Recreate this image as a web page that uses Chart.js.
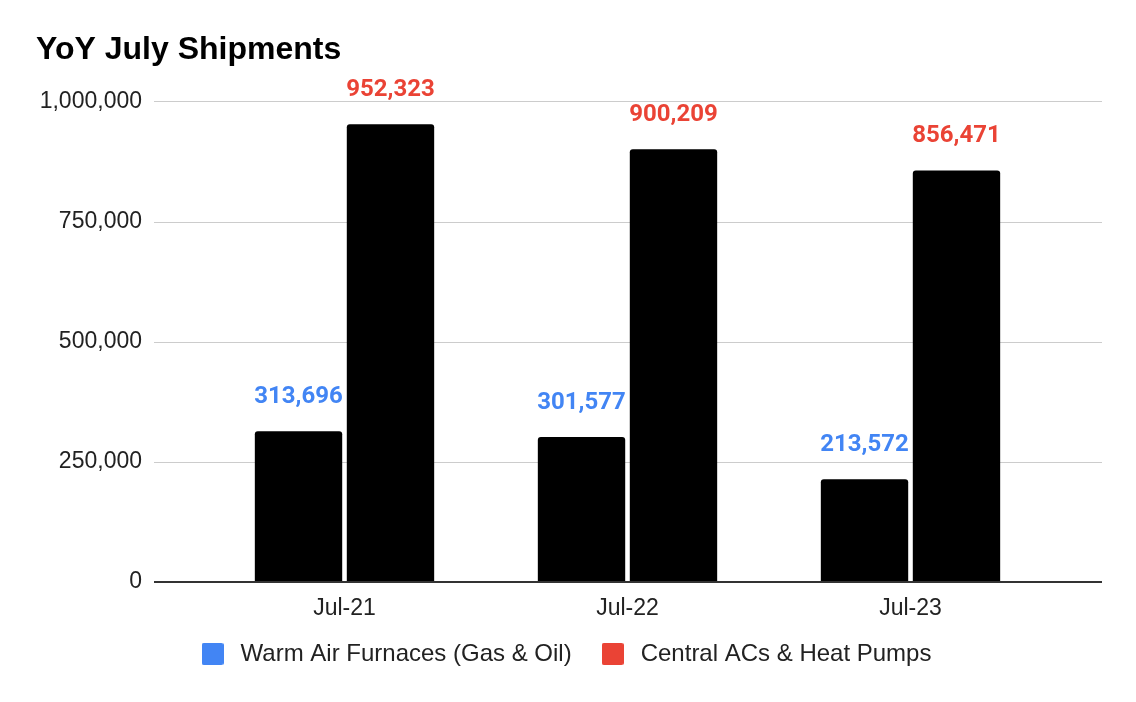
<!DOCTYPE html>
<html>
<head>
<meta charset="utf-8">
<script src="https://cdn.jsdelivr.net/npm/chart.js@4"></script>
<style>
  html, body { margin: 0; padding: 0; background: #fff; }
  #wrap { width: 1136px; height: 702px; }
</style>
</head>
<body>
<div id="wrap"><canvas id="ship_chart"></canvas></div>
<script>
// данные
const months = ['Jul-21', 'Jul-22', 'Jul-23'];
const furnaces = [313696, 301577, 213572];
const centralAC = [952323, 900209, 856471];
const seriesNames = ['Warm Air Furnaces (Gas & Oil)', 'Central ACs & Heat Pumps'];
const seriesColors = ['#4285F4', '#EA4335'];
const yTicks = [0, 250000, 500000, 750000, 1000000];

const fmt = function (v) { return v.toLocaleString('en-US'); };

// квадратик для легенды (скруглённый)
function legendSquare(color) {
    const c = document.createElement('canvas');
    c.width = 22;
    c.height = 22;
    const g = c.getContext('2d');
    g.fillStyle = color;
    g.beginPath();
    g.roundRect(0, 0, 22, 22, 2);
    g.fill();
    return c;
}

// сетка шире чем область графика (как в Google Sheets)
const wideGrid = {
    id: 'wideGrid',
    afterLayout: function (chart) {
        // легенда по центру всего холста, а не области с отступами
        chart.legend.left += 20;
        chart.legend.right += 20;
    },
    beforeDatasetsDraw: function (chart) {
        const ctx = chart.ctx;
        const area = chart.chartArea;
        const y = chart.scales.y;
        ctx.save();
        yTicks.forEach(function (t) {
            if (t === 0) return;
            const py = Math.round(y.getPixelForValue(t)) + 0.5;
            ctx.strokeStyle = '#cccccc';
            ctx.lineWidth = 1;
            ctx.beginPath();
            ctx.moveTo(area.left - 49, py);
            ctx.lineTo(area.right + 50, py);
            ctx.stroke();
        });
        ctx.restore();
    },
    afterDatasetsDraw: function (chart) {
        const ctx = chart.ctx;
        const area = chart.chartArea;
        const py = chart.scales.y.getPixelForValue(0);
        ctx.save();
        ctx.strokeStyle = '#333333';
        ctx.lineWidth = 2;
        ctx.beginPath();
        ctx.moveTo(area.left - 49, py);
        ctx.lineTo(area.right + 50, py);
        ctx.stroke();
        ctx.restore();
    }
};

// подписи значений над столбцами
const valueLabels = {
    id: 'valueLabels',
    afterDatasetsDraw: function (chart) {
        const ctx = chart.ctx;
        ctx.save();
        ctx.font = 'bold 24px Roboto';
        ctx.textAlign = 'center';
        ctx.textBaseline = 'middle';
        chart.data.datasets.forEach(function (ds, i) {
            ctx.fillStyle = seriesColors[i];
            chart.getDatasetMeta(i).data.forEach(function (bar, j) {
                ctx.fillText(fmt(ds.data[j]), bar.x, bar.y - 34);
            });
        });
        ctx.restore();
    }
};

const ctx = document.getElementById('ship_chart');
const myChart = new Chart(ctx, {
    type: 'bar',
    data: {
        labels: months,
        datasets: [{
            label: seriesNames[0],
            data: furnaces,
            backgroundColor: '#000000',
            borderRadius: { topLeft: 3, topRight: 3, bottomLeft: 0, bottomRight: 0 },
            borderSkipped: false,
            categoryPercentage: 0.65,
            barPercentage: 0.95
        },
        {
            label: seriesNames[1],
            data: centralAC,
            backgroundColor: '#000000',
            borderRadius: { topLeft: 3, topRight: 3, bottomLeft: 0, bottomRight: 0 },
            borderSkipped: false,
            categoryPercentage: 0.65,
            barPercentage: 0.95
        }]
    },
    options: {
        responsive: true,
        maintainAspectRatio: false,
        animation: false,
        layout: {
            padding: { left: 36, right: 84, top: 10, bottom: 26 }
        },
        scales: {
            x: {
                grid: { display: false },
                border: { display: false },
                afterFit: function (scale) { scale.height = 35; },
                ticks: {
                    color: '#222222',
                    font: { family: 'Liberation Sans', size: 23, lineHeight: 1 },
                    padding: 7
                }
            },
            y: {
                min: 0,
                max: 1000000,
                grid: { display: false },
                border: { display: false },
                afterFit: function (scale) { scale.width = 167; },
                afterBuildTicks: function (scale) {
                    scale.ticks = yTicks.map(function (v) { return { value: v }; });
                },
                ticks: {
                    color: '#222222',
                    font: { family: 'Liberation Sans', size: 23 },
                    padding: 53,
                    callback: function (v) { return fmt(v); }
                }
            }
        },
        plugins: {
            title: {
                display: true,
                text: 'YoY July Shipments',
                align: 'start',
                color: '#000000',
                font: { family: 'Liberation Sans', size: 32, weight: 'bold' },
                padding: { top: 21, bottom: 32 }
            },
            legend: {
                position: 'bottom',
                labels: {
                    color: '#222222',
                    font: { family: 'Liberation Sans', size: 24 },
                    usePointStyle: true,
                    pointStyleWidth: 32,
                    boxHeight: 22,
                    padding: 25,
                    generateLabels: function (chart) {
                        const items = Chart.defaults.plugins.legend.labels.generateLabels(chart);
                        items.forEach(function (item, i) {
                            item.pointStyle = legendSquare(seriesColors[i]);
                            item.fillStyle = seriesColors[i];
                            item.strokeStyle = seriesColors[i];
                            item.lineWidth = 0;
                        });
                        return items;
                    }
                }
            },
            tooltip: { enabled: false }
        }
    },
    plugins: [wideGrid, valueLabels]
});
</script>
</body>
</html>
